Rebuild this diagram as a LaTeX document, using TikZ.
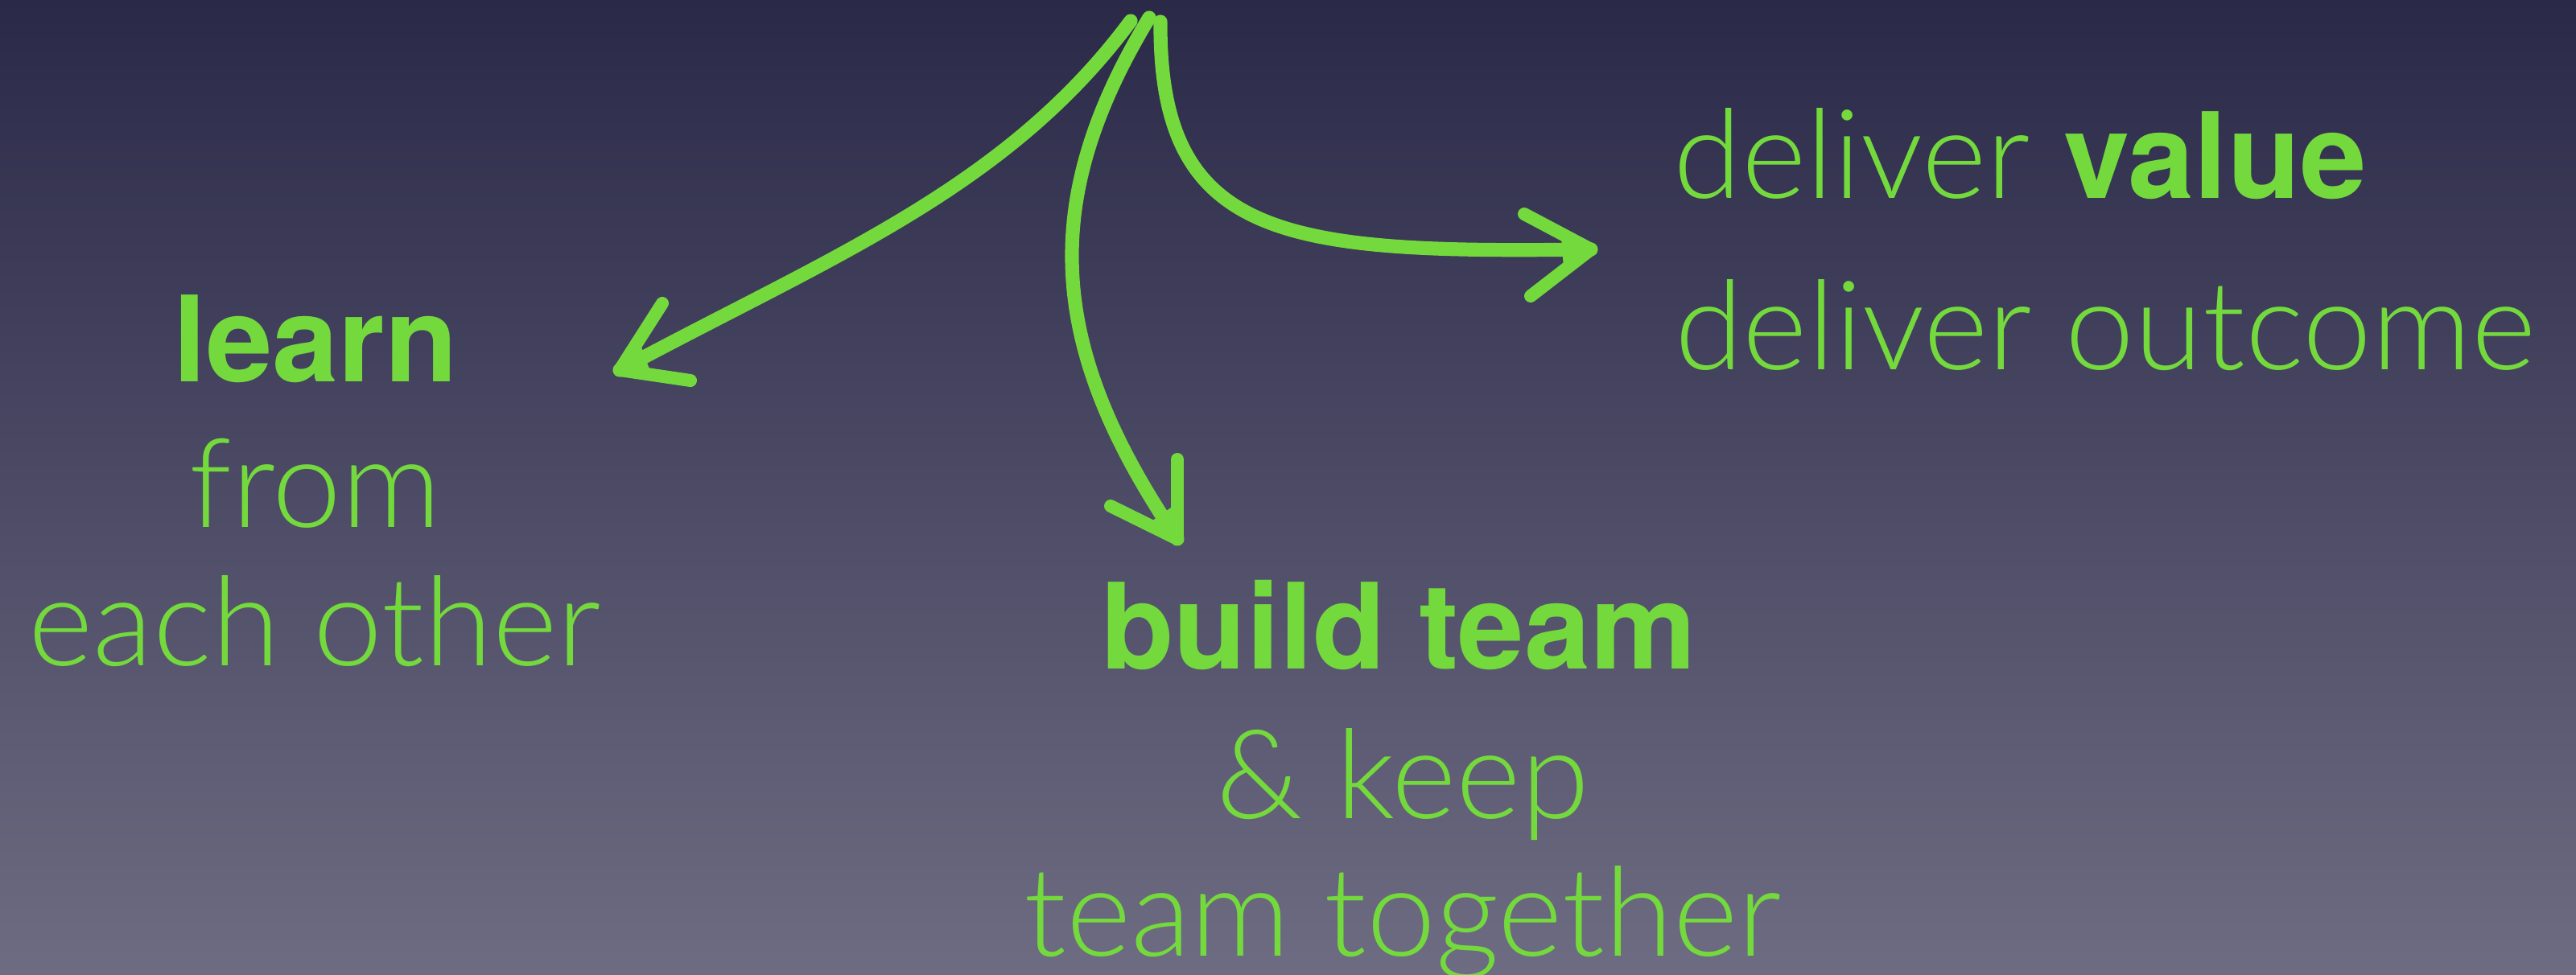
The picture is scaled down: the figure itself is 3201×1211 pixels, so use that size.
\documentclass[tikz,border=0pt]{standalone}
\usepackage{fontspec}
\usetikzlibrary{calc}
\setmainfont{Lato Light}
\newfontfamily\boldhv{TeX Gyre Heros}[UprightFont={* Bold}]
\definecolor{grn}{RGB}{116,217,60}
\definecolor{bgtop}{RGB}{42,41,72}
\definecolor{bgmid}{RGB}{76,75,102}
\definecolor{bgbot}{RGB}{110,108,130}
\tikzset{
  txt/.style={text=grn, inner sep=0pt, anchor=base, font=\fontsize{38.5}{44}\selectfont},
  btxt/.style={txt, font=\fontsize{37}{44}\boldhv},
  stroke/.style={draw=grn, line width=4.3pt, line cap=round, line join=round},
  barb/.style={draw=grn, line width=4pt, line cap=round},
}
\begin{document}
\begin{tikzpicture}[x=0.25pt,y=-0.25pt]
\useasboundingbox (0,0) rectangle (3201,1211);
\shade[top color=bgtop, middle color=bgmid, bottom color=bgbot] (0,0) rectangle (3201,1211);

% texts
\node[btxt] (learn) at (392,474) {learn};
\node[txt] (from) at (392,655) {from};
\node[txt] (each) at (391,827) {each other};
\node[btxt] (build) at (1738,831) {build team};
\node[txt] (keep) at (1743,1017) {\& keep};
\node[txt] (together) at (1743,1188) {team together};
\node[txt] (value) at (2510,246) {deliver {\fontsize{37}{44}\boldhv value}};
\node[txt] (outcome) at (2616,459) {deliver outcome};

% arrow points
\coordinate (sL) at (1405,26);
\coordinate (sM) at (1428,22);
\coordinate (sR) at (1442,27);
\coordinate (tL) at (770,460);
\coordinate (tM) at (1463,670);
\coordinate (tR) at (1977,310);

\draw[stroke] (sL) .. controls (1250,235) and (1030,320) .. (tL);
\draw[stroke] (sM) .. controls (1290,250) and (1300,430) .. (tM);
\draw[stroke] (sR) .. controls (1440,300) and (1600,315) .. (tR);

% arrowheads
\coordinate (bL1) at (823,377);
\coordinate (bL2) at (858,473);
\coordinate (bM1) at (1463,571);
\coordinate (bM2) at (1380,629);
\coordinate (bR1) at (1894,266);
\coordinate (bR2) at (1902,368);
\draw[barb] (tL) -- (bL1);
\draw[barb] (tL) -- (bL2);
\draw[barb] (tM) -- (bM1);
\draw[barb] (tM) -- (bM2);
\draw[barb] (tR) -- (bR1);
\draw[barb] (tR) -- (bR2);
\fill[grn] (tL) -- ($(tL)!0.45!(bL1)$) -- ($(tL)!0.45!(bL2)$) -- cycle;
\fill[grn] (tM) -- ($(tM)!0.45!(bM1)$) -- ($(tM)!0.45!(bM2)$) -- cycle;
\fill[grn] (tR) -- ($(tR)!0.45!(bR1)$) -- ($(tR)!0.45!(bR2)$) -- cycle;
\end{tikzpicture}
\end{document}
